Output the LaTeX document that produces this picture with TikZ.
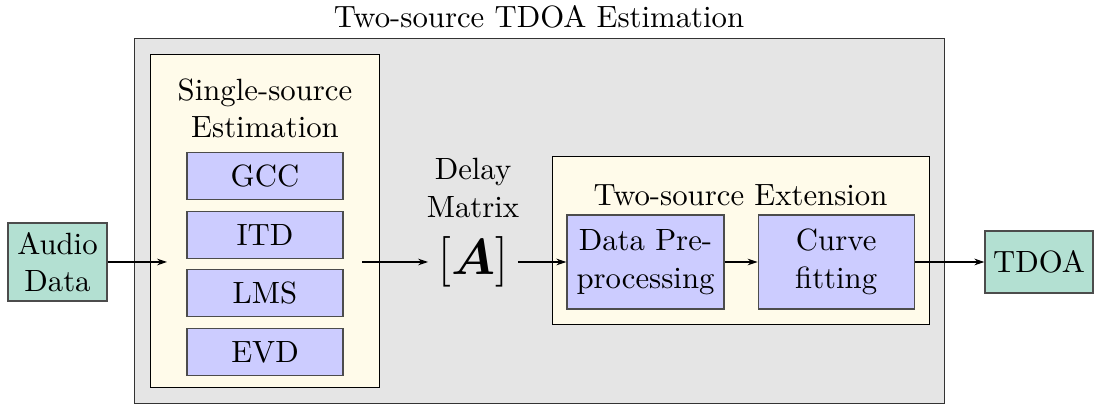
\documentclass[tikz,border=0pt]{standalone}
\usepackage{amsmath}
\usepackage{amssymb}
\usepackage{tikz}
\usetikzlibrary{positioning,arrows.meta}
\definecolor{padyellow}{RGB}{255,251,234}
\definecolor{iogreen}{RGB}{179,224,210}

\begin{document}
\begin{tikzpicture}[
    font=\fontsize{10.5}{12.8}\selectfont,
    panel/.style={draw, black!80, fill=gray!20, anchor=north west, inner sep=0pt},
    group/.style={draw, black, fill=padyellow, anchor=north west, inner sep=0pt},
    algo/.style={draw, black!70, fill=blue!20, text=black, minimum width=18.72mm,
                 minimum height=5.64mm, inner sep=1pt},
    io/.style={draw, black!70, fill=iogreen, text=black, align=center, inner sep=1pt},
    flow/.style={-{Stealth[length=1.2mm, width=0.8mm]}},
  ]
  \useasboundingbox (0,0) rectangle (13.128,-4.872);

  % background panels
  \node[panel, minimum width=97.2mm, minimum height=43.8mm] (outer) at (1.608,-0.456) {};
  \node[group, minimum width=27.48mm, minimum height=39.96mm] (single) at (1.80,-0.648) {};
  \node[group, minimum width=45.24mm, minimum height=20.16mm] (ext) at (6.624,-1.872) {};

  \node (title) at (6.468,-0.2) {Two-source TDOA Estimation};
  \node[align=center] (sstitle) at (3.18,-1.30) {Single-source\\Estimation};
  \node (extitle) at (8.886,-2.34) {Two-source Extension};

  % single-source estimators
  \node[algo] (gcc) at (3.18,-2.112) {GCC};
  \node[algo, below=1.26mm of gcc] (itd) {ITD};
  \node[algo, below=1.26mm of itd] (lms) {LMS};
  \node[algo, below=1.26mm of lms] (evd) {EVD};

  % delay matrix
  \node[align=center] (delay) at (5.676,-2.256) {Delay\\Matrix};
  \node (mat) at (5.676,-3.144) {\LARGE$[\boldsymbol{A}]$};

  % two-source extension
  \node[algo, align=center, minimum width=18.84mm, minimum height=11.28mm] (prep)
    at (7.746,-3.144) {Data Pre-\\processing};
  \node[algo, align=center, minimum width=18.72mm, minimum height=11.28mm,
        right=3.96mm of prep] (curve) {Curve\\fitting};

  % input / output
  \node[io, minimum width=11.88mm, minimum height=9.36mm] (audio) at (0.69,-3.144) {Audio\\Data};
  \node[io, minimum width=12.96mm, minimum height=7.44mm] (tdoa) at (12.468,-3.144) {TDOA};

  \coordinate (estin) at (2.004,-3.144);
  \coordinate (estout) at (4.344,-3.144);
  \draw[flow] (audio) -- (estin);
  \draw[flow] (estout) -- (mat);
  \draw[flow] (mat) -- (prep);
  \draw[flow] (prep) -- (curve);
  \draw[flow] (curve) -- (tdoa);
\end{tikzpicture}
\end{document}
